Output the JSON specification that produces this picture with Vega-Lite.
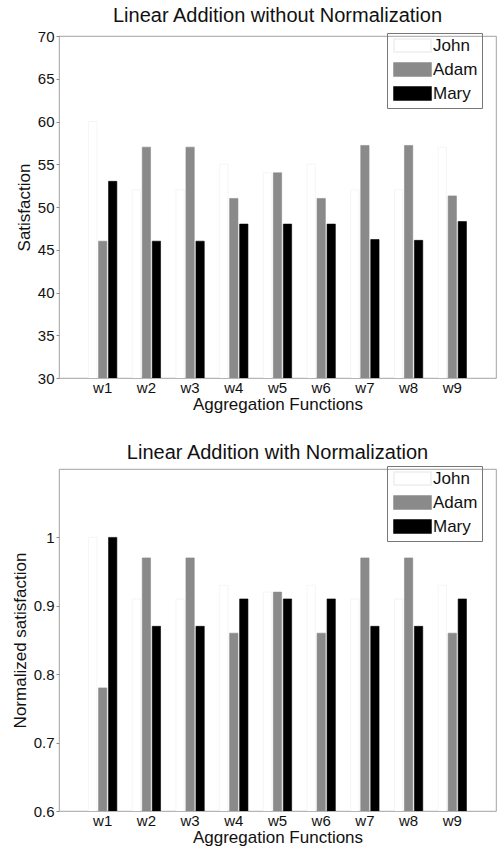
{
  "$schema": "https://vega.github.io/schema/vega-lite/v6.json",
  "background": "white",
  "padding": {"left": 10, "top": 5, "right": 1, "bottom": 0},
  "spacing": 29,
  "config": {
    "font": "Liberation Sans",
    "view": {"stroke": "#8a8a8a", "strokeWidth": 0.8},
    "title": {"fontSize": 20, "fontWeight": "normal", "color": "#111", "offset": 3},
    "axis": {"labelFontSize": 15, "titleFontSize": 17, "titleFontWeight": "normal", "labelColor": "#111", "titleColor": "#111", "domainColor": "#8a8a8a", "tickColor": "#8a8a8a", "grid": false},
    "legend": {"orient": "none", "legendX": 328, "legendY": -3, "strokeColor": "#777", "padding": 4, "labelFontSize": 17, "labelColor": "#111",
               "symbolType": "M-2.5,-0.88H2.5V0.88H-2.5Z", "symbolSize": 219, "rowPadding": 3, "symbolOffset": 13, "labelOffset": 12}
  },
  "datasets": {
    "bars": [
      {"panel": "raw", "w": "w1", "person": "John", "value": 60},
      {"panel": "raw", "w": "w1", "person": "Adam", "value": 46},
      {"panel": "raw", "w": "w1", "person": "Mary", "value": 53},
      {"panel": "raw", "w": "w2", "person": "John", "value": 52},
      {"panel": "raw", "w": "w2", "person": "Adam", "value": 57},
      {"panel": "raw", "w": "w2", "person": "Mary", "value": 46},
      {"panel": "raw", "w": "w3", "person": "John", "value": 52},
      {"panel": "raw", "w": "w3", "person": "Adam", "value": 57},
      {"panel": "raw", "w": "w3", "person": "Mary", "value": 46},
      {"panel": "raw", "w": "w4", "person": "John", "value": 55},
      {"panel": "raw", "w": "w4", "person": "Adam", "value": 51},
      {"panel": "raw", "w": "w4", "person": "Mary", "value": 48},
      {"panel": "raw", "w": "w5", "person": "John", "value": 54},
      {"panel": "raw", "w": "w5", "person": "Adam", "value": 54},
      {"panel": "raw", "w": "w5", "person": "Mary", "value": 48},
      {"panel": "raw", "w": "w6", "person": "John", "value": 55},
      {"panel": "raw", "w": "w6", "person": "Adam", "value": 51},
      {"panel": "raw", "w": "w6", "person": "Mary", "value": 48},
      {"panel": "raw", "w": "w7", "person": "John", "value": 52},
      {"panel": "raw", "w": "w7", "person": "Adam", "value": 57.2},
      {"panel": "raw", "w": "w7", "person": "Mary", "value": 46.2},
      {"panel": "raw", "w": "w8", "person": "John", "value": 52},
      {"panel": "raw", "w": "w8", "person": "Adam", "value": 57.2},
      {"panel": "raw", "w": "w8", "person": "Mary", "value": 46.1},
      {"panel": "raw", "w": "w9", "person": "John", "value": 57},
      {"panel": "raw", "w": "w9", "person": "Adam", "value": 51.3},
      {"panel": "raw", "w": "w9", "person": "Mary", "value": 48.3},
      {"panel": "norm", "w": "w1", "person": "John", "value": 1.0},
      {"panel": "norm", "w": "w1", "person": "Adam", "value": 0.78},
      {"panel": "norm", "w": "w1", "person": "Mary", "value": 1.0},
      {"panel": "norm", "w": "w2", "person": "John", "value": 0.91},
      {"panel": "norm", "w": "w2", "person": "Adam", "value": 0.97},
      {"panel": "norm", "w": "w2", "person": "Mary", "value": 0.87},
      {"panel": "norm", "w": "w3", "person": "John", "value": 0.91},
      {"panel": "norm", "w": "w3", "person": "Adam", "value": 0.97},
      {"panel": "norm", "w": "w3", "person": "Mary", "value": 0.87},
      {"panel": "norm", "w": "w4", "person": "John", "value": 0.93},
      {"panel": "norm", "w": "w4", "person": "Adam", "value": 0.86},
      {"panel": "norm", "w": "w4", "person": "Mary", "value": 0.91},
      {"panel": "norm", "w": "w5", "person": "John", "value": 0.92},
      {"panel": "norm", "w": "w5", "person": "Adam", "value": 0.92},
      {"panel": "norm", "w": "w5", "person": "Mary", "value": 0.91},
      {"panel": "norm", "w": "w6", "person": "John", "value": 0.93},
      {"panel": "norm", "w": "w6", "person": "Adam", "value": 0.86},
      {"panel": "norm", "w": "w6", "person": "Mary", "value": 0.91},
      {"panel": "norm", "w": "w7", "person": "John", "value": 0.91},
      {"panel": "norm", "w": "w7", "person": "Adam", "value": 0.97},
      {"panel": "norm", "w": "w7", "person": "Mary", "value": 0.87},
      {"panel": "norm", "w": "w8", "person": "John", "value": 0.91},
      {"panel": "norm", "w": "w8", "person": "Adam", "value": 0.97},
      {"panel": "norm", "w": "w8", "person": "Mary", "value": 0.87},
      {"panel": "norm", "w": "w9", "person": "John", "value": 0.93},
      {"panel": "norm", "w": "w9", "person": "Adam", "value": 0.86},
      {"panel": "norm", "w": "w9", "person": "Mary", "value": 0.91}
    ]
  },
  "vconcat": [
    {
      "title": "Linear Addition without Normalization",
      "width": 437,
      "height": 342,
      "data": {"name": "bars"},
      "transform": [{"filter": "datum.panel === 'raw'"}],
      "mark": {"type": "bar", "strokeWidth": 0.6, "clip": true},
      "encoding": {
        "x": {"field": "w", "type": "nominal", "title": "Aggregation Functions",
              "scale": {"paddingInner": 0, "paddingOuter": 0.5},
              "axis": {"labelAngle": 0, "ticks": false, "domain": false, "labelPadding": 2, "titlePadding": 1}},
        "xOffset": {"field": "person", "type": "nominal", "sort": ["John", "Adam", "Mary"],
                    "scale": {"paddingInner": 0.17, "paddingOuter": 0.77}},
        "y": {"field": "value", "type": "quantitative", "title": "Satisfaction",
              "scale": {"domain": [30, 70], "nice": false, "zero": false},
              "axis": {"values": [30, 35, 40, 45, 50, 55, 60, 65, 70], "tickSize": 3, "domain": false, "labelPadding": 2, "titlePadding": 4}},
        "color": {"field": "person", "type": "nominal", "sort": ["John", "Adam", "Mary"],
                  "scale": {"domain": ["John", "Adam", "Mary"], "range": ["#ffffff", "#8a8a8a", "#000000"]},
                  "legend": {"title": null}},
        "stroke": {"field": "person", "type": "nominal", "sort": ["John", "Adam", "Mary"],
                   "scale": {"domain": ["John", "Adam", "Mary"], "range": ["#eeeeee", "#8a8a8a", "#000000"]}}
      }
    },
    {
      "title": "Linear Addition with Normalization",
      "width": 437,
      "height": 342,
      "data": {"name": "bars"},
      "transform": [{"filter": "datum.panel === 'norm'"}],
      "mark": {"type": "bar", "strokeWidth": 0.6, "clip": true},
      "encoding": {
        "x": {"field": "w", "type": "nominal", "title": "Aggregation Functions",
              "scale": {"paddingInner": 0, "paddingOuter": 0.5},
              "axis": {"labelAngle": 0, "ticks": false, "domain": false, "labelPadding": 2, "titlePadding": 1}},
        "xOffset": {"field": "person", "type": "nominal", "sort": ["John", "Adam", "Mary"],
                    "scale": {"paddingInner": 0.17, "paddingOuter": 0.77}},
        "y": {"field": "value", "type": "quantitative", "title": "Normalized satisfaction",
              "scale": {"domain": [0.6, 1.1], "nice": false, "zero": false},
              "axis": {"values": [0.6, 0.7, 0.8, 0.9, 1], "format": "~g", "tickSize": 3, "domain": false, "labelPadding": 2, "titlePadding": 4}},
        "color": {"field": "person", "type": "nominal", "sort": ["John", "Adam", "Mary"],
                  "scale": {"domain": ["John", "Adam", "Mary"], "range": ["#ffffff", "#8a8a8a", "#000000"]},
                  "legend": {"title": null}},
        "stroke": {"field": "person", "type": "nominal", "sort": ["John", "Adam", "Mary"],
                   "scale": {"domain": ["John", "Adam", "Mary"], "range": ["#eeeeee", "#8a8a8a", "#000000"]}}
      }
    }
  ],
  "resolve": {"scale": {"y": "independent", "color": "independent", "stroke": "independent"}, "legend": {"color": "independent", "stroke": "independent"}}
}
